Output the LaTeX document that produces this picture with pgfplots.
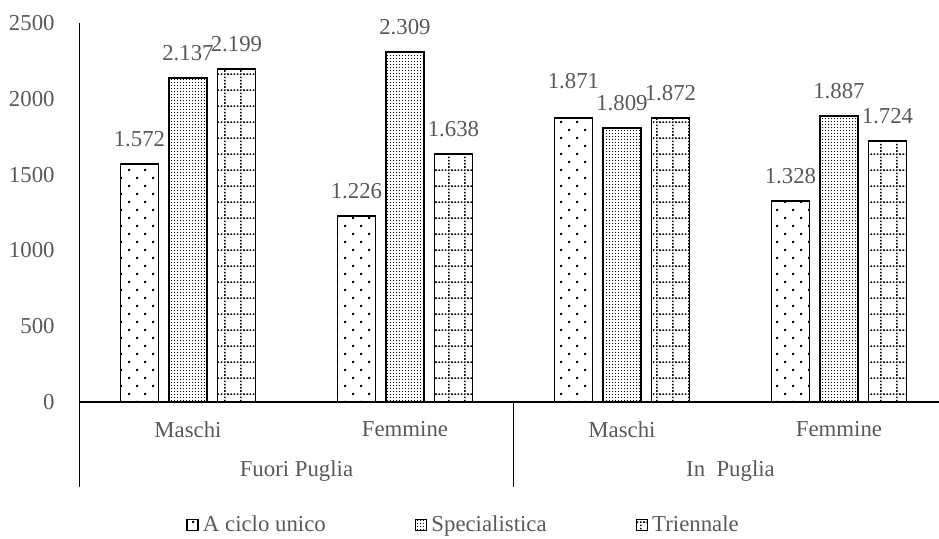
\documentclass[border=0pt]{standalone}
\usepackage{fontspec}
\setmainfont{Liberation Serif}
\usepackage{pgfplots}
\pgfplotsset{compat=1.18}
\usetikzlibrary{patterns}
\definecolor{textgray}{HTML}{595959}

\pgfdeclarepatternformonly{sparsedots}{\pgfqpoint{-1pt}{-1pt}}{\pgfqpoint{9pt}{9pt}}{\pgfqpoint{8pt}{8pt}}{%
  \pgfpathrectangle{\pgfqpoint{0pt}{0pt}}{\pgfqpoint{1pt}{1pt}}%
  \pgfpathrectangle{\pgfqpoint{4pt}{4pt}}{\pgfqpoint{1pt}{1pt}}%
  \pgfusepath{fill}}
\pgfdeclarepatternformonly{densedots}{\pgfqpoint{-0.5pt}{-0.5pt}}{\pgfqpoint{2pt}{2pt}}{\pgfqpoint{1.5pt}{1.5pt}}{%
  \pgfpathrectangle{\pgfqpoint{0pt}{0pt}}{\pgfqpoint{0.7pt}{0.7pt}}%
  \pgfusepath{fill}}
\pgfdeclarepatternformonly{dotgrid}{\pgfqpoint{-1pt}{-1pt}}{\pgfqpoint{9pt}{9pt}}{\pgfqpoint{8pt}{8pt}}{%
  \foreach \i in {0,1.6,3.2,4.8,6.4}{%
    \pgfpathrectangle{\pgfqpoint{\i pt}{0pt}}{\pgfqpoint{0.8pt}{0.8pt}}%
  }%
  \foreach \i in {1.6,3.2,4.8,6.4}{%
    \pgfpathrectangle{\pgfqpoint{0pt}{\i pt}}{\pgfqpoint{0.8pt}{0.8pt}}%
  }%
  \pgfusepath{fill}}

\pgfplotstableread{
x y off
0 1572 0
1 1226 0
2 1871 6.5
3 1328 0
}\seriesA
\pgfplotstableread{
x y off
0 2137 0
1 2309 0
2 1809 0
3 1887 0
}\seriesB
\pgfplotstableread{
x y off
0 2199 0
1 1638 0
2 1872 0
3 1724 0
}\seriesC

\begin{document}
\fontsize{11.4}{13.7}\selectfont
\begin{tikzpicture}
\path[use as bounding box] (-39.75pt,-68.5pt) rectangle (429.75pt,201pt);
\begin{axis}[
  at={(0pt,0pt)}, anchor=south west,
  scale only axis,
  width=434pt, height=189.5pt,
  xmin=-0.5, xmax=3.5,
  ymin=0, ymax=2500,
  ytick={0,500,1000,1500,2000,2500},
  /pgf/number format/1000 sep={},
  /pgf/number format/assume math mode=true,
  xtick={0,1,2,3},
  xticklabels={Maschi,Femmine,Maschi,Femmine},
  axis x line=bottom, axis y line=left,
  axis line style={-, line width=0.75pt, black},
  major tick length=0pt,
  tick style={draw=none},
  tick label style={text=textgray},
  yticklabel style={anchor=east, inner sep=0pt, xshift=-12.25pt},
  xticklabel style={anchor=north, inner sep=0pt, yshift=-9.5pt},
  clip=false,
  ybar, bar width=19pt,
  every axis plot/.append style={draw=black, line width=0.9pt},
  nodes near coords={\pgfmathprintnumber[fixed, precision=0, 1000 sep={.}]{\pgfplotspointmeta}},
  visualization depends on={\thisrow{off} \as \myoff},
  every node near coord/.append style={text=textgray, inner sep=0pt, anchor=south, yshift=8pt+\myoff pt},
  legend image code/.code={%
    \draw[#1, line width=0.6pt] (0pt,-2.75pt) rectangle (5.5pt,2.75pt);
    \path[draw=none, pattern=none] (0pt,0pt) -- (8pt,0pt);},
  legend columns=3,
  legend style={at={(0.1227,-0.3245)}, anchor=west, draw=none, fill=none,
    inner sep=0pt, nodes={inner sep=0pt, text=textgray},
    /tikz/every even column/.append style={column sep=44.5pt}},
]
\addplot[bar shift=-24.25pt, pattern=sparsedots] table[x=x, y=y] {\seriesA};
\addlegendentry{A ciclo unico}
\addplot[bar shift=0pt, pattern=densedots] table[x=x, y=y] {\seriesB};
\addlegendentry{Specialistica}
\addplot[bar shift=24.25pt, pattern=dotgrid] table[x=x, y=y] {\seriesC};
\addlegendentry{Triennale}
\draw[line width=0.75pt] (axis cs:-0.5,0) -- ++(0pt,-42.5pt);
\draw[line width=0.75pt] (axis cs:1.5,0) -- ++(0pt,-42.5pt);
\draw[line width=0.75pt] (axis cs:3.5,0) -- ++(0pt,-42.5pt);
\node[text=textgray, inner sep=0pt] at ([yshift=-34.5pt]axis cs:0.5,0) {Fuori Puglia};
\node[text=textgray, inner sep=0pt] at ([yshift=-34.5pt]axis cs:2.5,0) {In~~Puglia};
\end{axis}
\end{tikzpicture}
\end{document}
